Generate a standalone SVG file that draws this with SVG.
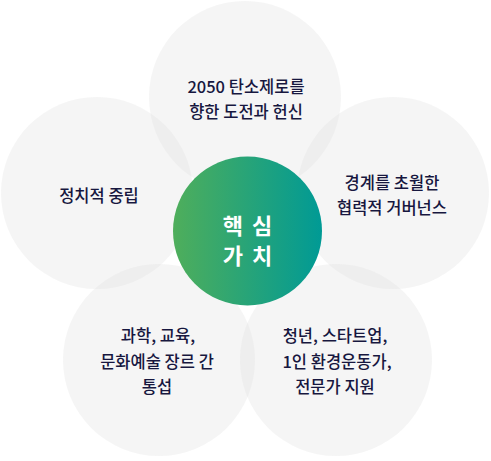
<svg xmlns="http://www.w3.org/2000/svg" width="491" height="461" viewBox="0 0 491 461">
<defs>
<linearGradient id="g" x1="0" y1="0" x2="1" y2="0">
<stop offset="0" stop-color="#4fae5b"/>
<stop offset="1" stop-color="#009a95"/>
</linearGradient>
<style>
.pet{fill:#dedede;fill-opacity:0.3}
.t{font-family:"Noto Sans CJK KR","Noto Sans",sans-serif;font-size:16.5px;font-weight:500;fill:#17173f;text-anchor:middle}
.c{font-family:"Noto Sans CJK KR","Noto Sans",sans-serif;font-size:22px;font-weight:700;fill:#ffffff;text-anchor:middle;letter-spacing:2px}
</style>
</defs>
<rect width="491" height="461" fill="#ffffff"/>
<g id="connectors"/>
<g id="n-top"><circle class="pet" cx="245" cy="97" r="96"/>
<text class="t" x="246" y="93">2050 탄소제로를</text>
<text class="t" x="246" y="118">향한 도전과 헌신</text></g>
<g id="n-left"><circle class="pet" cx="97" cy="193" r="96"/>
<text class="t" x="99" y="202">정치적 중립</text></g>
<g id="n-right"><circle class="pet" cx="393" cy="193" r="96"/>
<text class="t" x="392" y="189">경계를 초월한</text>
<text class="t" x="392" y="214">협력적 거버넌스</text></g>
<g id="n-bl"><circle class="pet" cx="159" cy="360" r="96"/>
<text class="t" x="158" y="342">과학, 교육,</text>
<text class="t" x="157" y="368">문화예술 장르 간</text>
<text class="t" x="157" y="393">통섭</text></g>
<g id="n-br"><circle class="pet" cx="336" cy="360" r="96"/>
<text class="t" x="335" y="342">청년, 스타트업,</text>
<text class="t" x="337" y="368">1인 환경운동가,</text>
<text class="t" x="335" y="393">전문가 지원</text></g>
<g id="n-center"><circle cx="247.5" cy="231" r="74.5" fill="url(#g)"/>
<text class="c" x="248.5" y="234">핵 심</text>
<text class="c" x="248.5" y="264">가 치</text></g>
</svg>
